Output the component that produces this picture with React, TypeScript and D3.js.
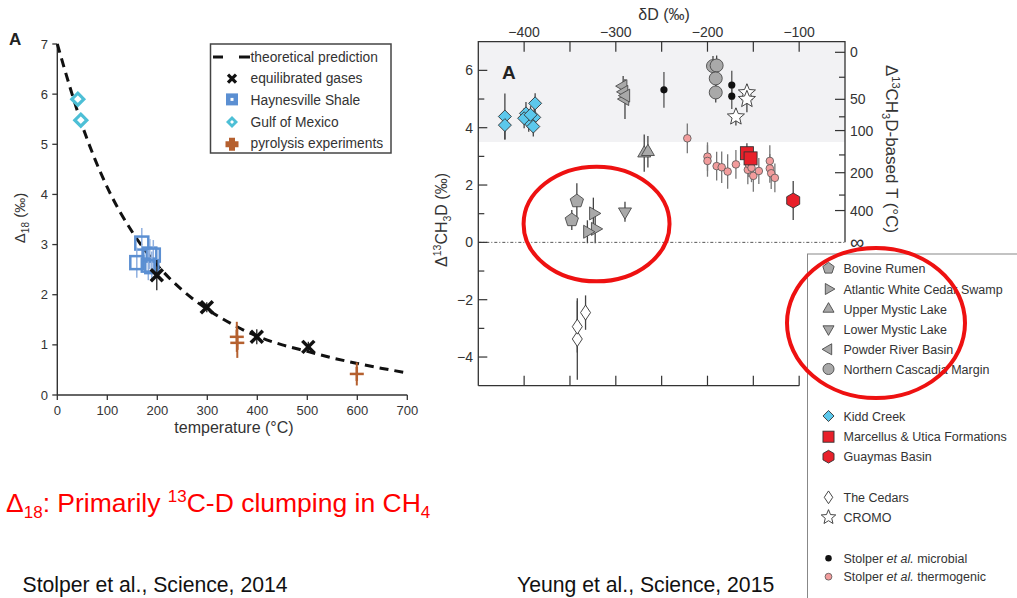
import React from "react";
import * as d3 from "d3";

// ---------- Left chart data (Stolper 2014) ----------
const curveT = [0, 25, 50, 75, 100, 150, 200, 250, 300, 350, 400, 450, 500, 550, 600, 650, 700];
const curveD = [7.0, 6.15, 5.37, 4.71, 4.14, 3.25, 2.59, 2.09, 1.71, 1.41, 1.17, 1.0, 0.87, 0.74, 0.63, 0.53, 0.44];
const gulfMexico = [[41, 5.9, 0.08], [47, 5.48, 0.08]];
const haynesville = [[169, 3.03, 0.3], [159, 2.64, 0.3], [185, 2.81, 0.3], [192, 2.79, 0.3], [182, 2.59, 0.3], [189, 2.56, 0.3]];
const equilibrated = [[199, 2.39, 0.3], [299, 1.75, 0.1], [399, 1.16, 0.15], [502, 0.96, 0.1]];
const pyrolysis = [[359, 1.16, 0.3], [360, 1.04, 0.3], [599, 0.42, 0.23]];
const leftXTicks = [0, 100, 200, 300, 400, 500, 600, 700];
const leftYTicks = [0, 1, 2, 3, 4, 5, 6, 7];
const leftLegend = ["theoretical prediction", "equilibrated gases", "Haynesville Shale", "Gulf of Mexico", "pyrolysis experiments"];

// ---------- Right chart data (Yeung 2015) ----------
const kiddCreek = [[-421, 4.39, 0.8], [-421, 4.09, 0.5], [-388, 4.85, 0.35], [-398, 4.5, 0.4], [-389, 4.36, 0.4], [-395, 4.21, 0.35], [-400, 4.33, 0.35], [-390, 4.04, 0.35], [-393, 4.45, 0.3]];
const powderRiver = [[-292, 5.45, 0.35], [-291, 5.25, 0.3], [-290, 5.0, 0.7], [-289, 5.12, 0.3]];
const stolperMicrobial = [[-247.5, 5.32, 0.62], [-173.5, 5.49, 0.5], [-173.5, 5.1, 0.45]];
const cascadia = [[-194, 6.15, 0.35], [-190, 6.17, 0.35], [-191, 5.72, 0.3], [-191, 5.23, 0.35]];
const cromo = [[-157, 5.22, 0.3], [-157, 4.99, 0.45], [-169, 4.38, 0.3]];
const upperMystic = [[-269, 3.11, 0.65], [-265, 3.16, 0.55]];
const thermogenic = [[-222, 3.63, 0.52], [-200, 2.99, 0.5], [-200, 2.84, 0.55], [-190, 2.66, 0.5], [-184.5, 2.62, 0.55], [-178, 2.47, 0.6], [-169, 2.72, 0.5], [-156, 2.53, 0.5], [-155, 2.73, 0.45], [-152, 2.6, 0.5], [-150, 2.32, 0.55], [-144, 2.49, 0.45], [-132, 2.84, 0.55], [-132, 2.58, 0.5], [-130.5, 2.41, 0.55], [-126.5, 2.25, 0.5]];
const marcellus = [[-157, 3.11, 0.35], [-153, 2.93, 0.4]];
const guaymas = [[-106.5, 1.46, 0.68]];
const bovine = [[-342.5, 1.44, 0.62], [-348, 0.78, 0.35]];
const atlantic = [[-324.5, 1.01, 0.55], [-322.5, 0.47, 0.5], [-331, 0.37, 0.4]];
const lowerMystic = [[-290, 1.07, 0.35]];
const cedars = [[-342, -3.37, 1.42], [-342, -2.94, 0.9], [-333, -2.45, 0.6]];
const topTicks = [-400, -350, -300, -250, -200, -150, -100];
const topLabels = [-400, -300, -200, -100];
const rightYTicks = [-5, -4, -3, -2, -1, 0, 1, 2, 3, 4, 5, 6, 7];
const rightYLabels = [-4, -2, 0, 2, 4, 6];
const tempLabels = ["0", "50", "100", "200", "400", "∞"];
const tempLabelDelta = [6.63, 4.99, 3.9, 2.43, 1.11, 0];
const tempMinorDelta = [5.76, 4.38, 3.05, 1.65];
const shadedAbove = 3.5;
const legendGroups = [
  ["Bovine Rumen", "Atlantic White Cedar Swamp", "Upper Mystic Lake", "Lower Mystic Lake", "Powder River Basin", "Northern Cascadia Margin"],
  ["Kidd Creek", "Marcellus & Utica Formations", "Guaymas Basin"],
  ["The Cedars", "CROMO"],
];

const FONT = "Arial, 'Liberation Sans', Helvetica, sans-serif";
const TXT = "#333";

function polyPts(cx: number, cy: number, r: number, n: number, rotDeg: number) {
  const pts: string[] = [];
  for (let i = 0; i < n; i++) {
    const a = ((rotDeg + (360 / n) * i) * Math.PI) / 180;
    pts.push(`${cx + r * Math.cos(a)},${cy + r * Math.sin(a)}`);
  }
  return pts.join(" ");
}
function starPts(cx: number, cy: number, ro: number, ri: number) {
  const pts: string[] = [];
  for (let i = 0; i < 10; i++) {
    const r = i % 2 === 0 ? ro : ri;
    const a = ((-90 + 36 * i) * Math.PI) / 180;
    pts.push(`${cx + r * Math.cos(a)},${cy + r * Math.sin(a)}`);
  }
  return pts.join(" ");
}
function diamondPts(cx: number, cy: number, hw: number, hh: number) {
  return `${cx},${cy - hh} ${cx + hw},${cy} ${cx},${cy + hh} ${cx - hw},${cy}`;
}

type Shape = "pent" | "tri-r" | "tri-u" | "tri-d" | "tri-l" | "circ" | "kdiam" | "square" | "hex" | "wdiam" | "star" | "dotB" | "dotP";

function Marker({ shape, x, y, s = 1 }: { shape: Shape; x: number; y: number; s?: number }) {
  const grey = "#a9a9a9", gs = "#4a4a4a";
  switch (shape) {
    case "pent":
      return <polygon points={polyPts(x, y, 7 * s, 5, -90)} fill={grey} stroke={gs} strokeWidth={0.9} />;
    case "tri-r":
      return <polygon points={polyPts(x, y, 7.5 * s, 3, 0)} fill={grey} stroke={gs} strokeWidth={0.9} />;
    case "tri-u":
      return <polygon points={polyPts(x, y, 7.5 * s, 3, -90)} fill={grey} stroke={gs} strokeWidth={0.9} />;
    case "tri-d":
      return <polygon points={polyPts(x, y, 7.5 * s, 3, 90)} fill={grey} stroke={gs} strokeWidth={0.9} />;
    case "tri-l":
      return <polygon points={polyPts(x, y, 7.5 * s, 3, 180)} fill={grey} stroke={gs} strokeWidth={0.9} />;
    case "circ":
      return <circle cx={x} cy={y} r={6.5 * s} fill={grey} stroke={gs} strokeWidth={0.9} />;
    case "kdiam":
      return <polygon points={diamondPts(x, y, 6.5 * s, 6.5 * s)} fill="#5cc8ec" stroke="#333" strokeWidth={0.9} />;
    case "square":
      return <rect x={x - 6.5 * s} y={y - 6.5 * s} width={13 * s} height={13 * s} fill="#e8202a" stroke="#333" strokeWidth={0.9} />;
    case "hex":
      return <polygon points={polyPts(x, y, 7.5 * s, 6, -90)} fill="#e8202a" stroke="#333" strokeWidth={0.9} />;
    case "wdiam":
      return <polygon points={diamondPts(x, y, 5 * s, 7.5 * s)} fill="#fff" stroke="#333" strokeWidth={0.9} />;
    case "star":
      return <polygon points={starPts(x, y, 9 * s, 4 * s)} fill="#fff" stroke="#333" strokeWidth={0.9} />;
    case "dotB":
      return <circle cx={x} cy={y} r={3.6 * s} fill="#111" />;
    case "dotP":
      return <circle cx={x} cy={y} r={3.8 * s} fill="#f29c9c" stroke="#555" strokeWidth={0.8} />;
  }
  return null;
}

export default function App() {
  // left scales
  const xL = d3.scaleLinear().domain([0, 700]).range([57.3, 407.3]);
  const yL = d3.scaleLinear().domain([0, 7]).range([395, 44]);
  const curve = d3
    .line<number>()
    .x((_, i) => xL(curveT[i]))
    .y((d) => yL(d))
    .curve(d3.curveMonotoneX)(curveD) as string;

  // right scales
  const xR = d3.scaleLinear().domain([-450, -50]).range([478.3, 845]);
  const yR = d3.scaleLinear().domain([-5, 7]).range([385.7, 41.7]);
  const xL0 = xR(-450), xR1 = xR(-50), xBotEnd = xR(-100);
  const yTop = yR(7), yBot = yR(-5), y0 = yR(0);

  const rightSeries: [number[][], Shape, string][] = [
    [thermogenic, "dotP", "#777"],
    [kiddCreek, "kdiam", "#444"],
    [powderRiver, "tri-l", "#444"],
    [stolperMicrobial, "dotB", "#555"],
    [cascadia, "circ", "#444"],
    [cromo, "star", "#444"],
    [upperMystic, "tri-u", "#444"],
    [marcellus, "square", "#444"],
    [guaymas, "hex", "#444"],
    [bovine, "pent", "#444"],
    [atlantic, "tri-r", "#444"],
    [lowerMystic, "tri-d", "#444"],
    [cedars, "wdiam", "#444"],
  ];
  const legendShapes: Shape[][] = [
    ["pent", "tri-r", "tri-u", "tri-d", "tri-l", "circ"],
    ["kdiam", "square", "hex"],
    ["wdiam", "star"],
  ];
  const legendYs = [
    [268.3, 289, 309, 329, 349.3, 369],
    [416, 436.7, 456.7],
    [497.3, 517.3],
  ];

  const cyan = "#4dbfd6", blue = "#5b8fd2", brown = "#b5602f";

  return (
    <svg width={1017} height={598} style={{ position: "absolute", left: 0, top: 0, background: "#fff" }} fontFamily={FONT}>
      {/* ================= LEFT CHART ================= */}
      <text x={9} y={45} fontSize={17} fontWeight="bold" fill="#222">A</text>
      {/* axes */}
      <line x1={xL(0)} x2={xL(0)} y1={yL(7)} y2={yL(0)} stroke="#333" strokeWidth={1.4} />
      <line x1={xL(0)} x2={xL(700)} y1={yL(0)} y2={yL(0)} stroke="#333" strokeWidth={1.4} />
      {leftYTicks.map((t) => (
        <g key={"ly" + t}>
          <line x1={xL(0) - 5} x2={xL(0)} y1={yL(t)} y2={yL(t)} stroke="#333" strokeWidth={1.3} />
          <text x={48} y={yL(t) + 4.5} fontSize={13} textAnchor="end" fill={TXT}>{t}</text>
        </g>
      ))}
      {leftXTicks.map((t) => (
        <g key={"lx" + t}>
          <line x1={xL(t)} x2={xL(t)} y1={yL(0)} y2={yL(0) + 5} stroke="#333" strokeWidth={1.3} />
          <text x={xL(t)} y={415} fontSize={13} textAnchor="middle" fill={TXT}>{t}</text>
        </g>
      ))}
      <text x={234} y={433} fontSize={16} textAnchor="middle" fill={TXT}>temperature (°C)</text>
      <text transform="translate(25,218) rotate(-90)" fontSize={15} textAnchor="middle" fill={TXT}>
        Δ<tspan fontSize={10} dy={4}>18</tspan><tspan dy={-4}> (‰)</tspan>
      </text>
      {/* curve */}
      <path d={curve} fill="none" stroke="#111" strokeWidth={3} strokeDasharray="9,6" />
      {/* Haynesville */}
      {haynesville.map(([t, v, e], i) => (
        <g key={"h" + i}>
          <line x1={xL(t)} x2={xL(t)} y1={yL(v - e)} y2={yL(v + e)} stroke="#8fb0e0" strokeWidth={1.5} />
          <rect x={xL(t) - 6.5} y={yL(v) - 6.5} width={13} height={13} fill="none" stroke={blue} strokeWidth={2.5} />
        </g>
      ))}
      {/* Gulf of Mexico */}
      {gulfMexico.map(([t, v], i) => (
        <polygon key={"g" + i} points={diamondPts(xL(t), yL(v), 6, 6)} fill="#fff" stroke={cyan} strokeWidth={3.2} />
      ))}
      {/* equilibrated */}
      {equilibrated.map(([t, v, e], i) => (
        <g key={"e" + i} stroke="#111">
          <line x1={xL(t)} x2={xL(t)} y1={yL(v - e)} y2={yL(v + e)} strokeWidth={1.2} />
          <line x1={xL(t) - 6} x2={xL(t) + 6} y1={yL(v) - 6} y2={yL(v) + 6} strokeWidth={3.5} />
          <line x1={xL(t) - 6} x2={xL(t) + 6} y1={yL(v) + 6} y2={yL(v) - 6} strokeWidth={3.5} />
        </g>
      ))}
      {/* pyrolysis */}
      {pyrolysis.map(([t, v, e], i) => (
        <g key={"p" + i} stroke={brown}>
          <line x1={xL(t)} x2={xL(t)} y1={yL(v - e)} y2={yL(v + e)} strokeWidth={2} />
          <line x1={xL(t) - 7} x2={xL(t) + 7} y1={yL(v)} y2={yL(v)} strokeWidth={2.5} />
          <line x1={xL(t)} x2={xL(t)} y1={yL(v) - 7} y2={yL(v) + 7} strokeWidth={2.5} />
        </g>
      ))}
      {/* legend */}
      <rect x={210.5} y={44} width={180.5} height={109} fill="#fff" stroke="#444" strokeWidth={1.5} />
      {leftLegend.map((l, i) => (
        <text key={"ll" + i} x={250.5} y={57 + i * 21.7 + 4.5} fontSize={13.8} fill={TXT}>{l}</text>
      ))}
      <line x1={213} x2={223} y1={57} y2={57} stroke="#111" strokeWidth={3} />
      <line x1={239} x2={250} y1={57} y2={57} stroke="#111" strokeWidth={3} />
      <g stroke="#111" strokeWidth={3.2}>
        <line x1={228} x2={236} y1={74.7} y2={82.7} />
        <line x1={228} x2={236} y1={82.7} y2={74.7} />
      </g>
      <rect x={226} y={93.4} width={12} height={12} fill={blue} />
      <rect x={230.5} y={97.9} width={3} height={3} fill="#fff" />
      <polygon points={diamondPts(232, 122.1, 6, 6)} fill={cyan} />
      <polygon points={diamondPts(232, 122.1, 2, 2)} fill="#fff" />
      <path d="M229,137.8h6v3.5h3.5v6h-3.5v3.5h-6v-3.5h-3.5v-6h3.5z" fill={brown} />

      {/* ================= RIGHT CHART ================= */}
      <rect x={xL0} y={yTop} width={xR1 - xL0} height={yR(shadedAbove) - yTop} fill="#f2f2f4" />
      <line x1={xL0} x2={xR1} y1={y0} y2={y0} stroke="#555" strokeWidth={1} strokeDasharray="3,2,1,2" />
      <path d={`M${xL0},${yBot}V${yTop}H${xR1}V${y0}`} fill="none" stroke="#333" strokeWidth={1.3} />
      <line x1={xL0} x2={xBotEnd} y1={yBot} y2={yBot} stroke="#333" strokeWidth={1.3} />
      {topTicks.map((t) => (
        <g key={"tt" + t} stroke="#333" strokeWidth={1.2}>
          <line x1={xR(t)} x2={xR(t)} y1={yTop} y2={yTop + 10} />
          <line x1={xR(t)} x2={xR(t)} y1={yBot} y2={yBot - 10} />
        </g>
      ))}
      {topLabels.map((t) => (
        <text key={"tl" + t} x={xR(t)} y={37} fontSize={14} textAnchor="middle" fill={TXT}>{"−" + Math.abs(t)}</text>
      ))}
      <text x={664} y={20} fontSize={16} textAnchor="middle" fill={TXT}>δD (‰)</text>
      {rightYTicks.filter((t) => t > -5 && t < 7).map((t) => (
        <line key={"ry" + t} x1={xL0} x2={xL0 + (t % 2 === 0 ? 9 : 6)} y1={yR(t)} y2={yR(t)} stroke="#333" strokeWidth={1.2} />
      ))}
      {rightYLabels.map((t) => (
        <text key={"ryl" + t} x={473} y={yR(t) + 5} fontSize={14} textAnchor="end" fill={TXT}>{t < 0 ? "−" + Math.abs(t) : t}</text>
      ))}
      <text transform={`translate(447,220) rotate(-90)`} fontSize={16} textAnchor="middle" fill={TXT}>
        Δ<tspan fontSize={10.5} dy={-6}>13</tspan><tspan dy={6}>CH</tspan><tspan fontSize={10.5} dy={4}>3</tspan><tspan dy={-4}>D (‰)</tspan>
      </text>
      {/* right temperature axis */}
      {tempLabelDelta.map((dv, i) => (
        <g key={"tk" + i}>
          {i < tempLabelDelta.length - 1 && <line x1={xR1 - 10} x2={xR1} y1={yR(dv)} y2={yR(dv)} stroke="#333" strokeWidth={1.2} />}
          <text x={850} y={yR(dv) + (i === tempLabelDelta.length - 1 ? 7 : 5)} fontSize={i === tempLabelDelta.length - 1 ? 20 : 14} fill={TXT}>{tempLabels[i]}</text>
        </g>
      ))}
      {tempMinorDelta.map((dv, i) => (
        <line key={"tm" + i} x1={xR1 - 6} x2={xR1} y1={yR(dv)} y2={yR(dv)} stroke="#333" strokeWidth={1.2} />
      ))}
      <text transform={`translate(886,149) rotate(90)`} fontSize={17} textAnchor="middle" fill={TXT}>
        Δ<tspan fontSize={11} dy={-6}>13</tspan><tspan dy={6}>CH</tspan><tspan fontSize={11} dy={4}>3</tspan><tspan dy={-4}>D-based T (°C)</tspan>
      </text>
      <text x={502} y={79} fontSize={19} fontWeight="bold" fill="#222">A</text>

      {/* error bars */}
      {rightSeries.map(([data, , col], si) =>
        data.map(([dd, v, e], i) => (
          <line key={`eb${si}-${i}`} x1={xR(dd)} x2={xR(dd)} y1={yR(v - e)} y2={yR(v + e)} stroke={col} strokeWidth={1.3} />
        ))
      )}
      {/* markers */}
      {rightSeries.map(([data, shape], si) =>
        data.map(([dd, v], i) => <Marker key={`mk${si}-${i}`} shape={shape} x={xR(dd)} y={yR(v)} />)
      )}

      {/* legend */}
      <rect x={807.5} y={254} width={260} height={400} fill="#fff" stroke="#888" strokeWidth={1} />
      {legendGroups.map((g, gi) =>
        g.map((l, i) => (
          <g key={`lg${gi}-${i}`}>
            <Marker shape={legendShapes[gi][i]} x={828.5} y={legendYs[gi][i]} s={0.85} />
            <text x={843.5} y={legendYs[gi][i] + 4.5} fontSize={12.5} fill={TXT}>{l}</text>
          </g>
        ))
      )}
      <Marker shape="dotB" x={828.5} y={558.3} s={0.9} />
      <text x={843.5} y={562.8} fontSize={12.5} fill={TXT}>Stolper <tspan fontStyle="italic">et al.</tspan> microbial</text>
      <Marker shape="dotP" x={828.5} y={576.7} s={0.9} />
      <text x={843.5} y={581.2} fontSize={12.5} fill={TXT}>Stolper <tspan fontStyle="italic">et al.</tspan> thermogenic</text>

      {/* annotation ellipses */}
      <ellipse cx={xR(-321)} cy={yR(0.64)} rx={xR(-321 + 79.6) - xR(-321)} ry={yR(0.64) - yR(2.64)} fill="none" stroke="#ee1111" strokeWidth={4} />
      <ellipse cx={876} cy={323} rx={89} ry={75} fill="none" stroke="#ee1111" strokeWidth={4} />

      {/* bottom text */}
      <text x={6} y={512} fontSize={26.5} fill="#ff0000">
        Δ<tspan fontSize={17} dy={6}>18</tspan><tspan dy={-6}>: Primarily </tspan><tspan fontSize={17} dy={-10}>13</tspan><tspan dy={10}>C-D clumping in CH</tspan><tspan fontSize={17} dy={6}>4</tspan>
      </text>
      <text x={22.5} y={592} fontSize={21.2} fill="#111">Stolper et al., Science, 2014</text>
      <text x={517} y={592} fontSize={21.2} fill="#111">Yeung et al., Science, 2015</text>
    </svg>
  );
}
